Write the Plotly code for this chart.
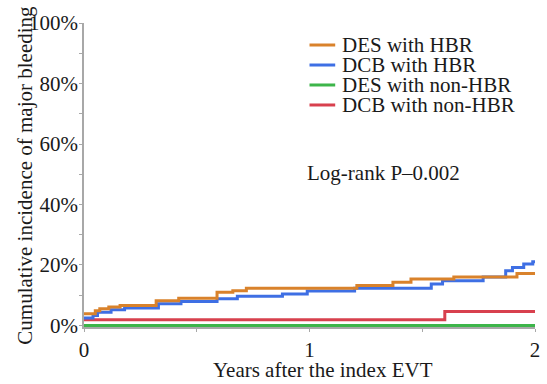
import plotly.graph_objects as go

# Kaplan-Meier style cumulative incidence (years, percent)
des_hbr_t = [0.0, 0.05, 0.07, 0.11, 0.16, 0.32, 0.42, 0.59, 0.66, 0.72, 1.21, 1.37, 1.45, 1.64, 1.92, 2.0]
des_hbr_y = [3.9, 4.9, 5.5, 6.1, 6.6, 8.2, 9.0, 11.0, 11.5, 12.3, 13.2, 14.3, 15.4, 16.0, 17.2, 17.2]

dcb_hbr_t = [0.0, 0.04, 0.06, 0.12, 0.18, 0.33, 0.43, 0.59, 0.68, 0.88, 0.99, 1.2, 1.54, 1.59, 1.77, 1.87, 1.9, 1.95, 1.99, 2.0]
dcb_hbr_y = [2.5, 3.3, 4.4, 5.2, 5.8, 7.2, 7.9, 8.8, 9.7, 10.4, 11.4, 12.3, 13.7, 14.8, 16.0, 18.1, 19.2, 20.3, 21.1, 21.1]

des_non_t = [0.0, 2.0]
des_non_y = [0.0, 0.0]

dcb_non_t = [0.0, 1.6, 2.0]
dcb_non_y = [1.9, 4.6, 4.6]

names = ["DES with HBR", "DCB with HBR", "DES with non-HBR", "DCB with non-HBR"]
colors = ["#D9822B", "#3E6FE4", "#3DB54A", "#D8404E"]

y_ticks = [0, 20, 40, 60, 80, 100]
x_ticks = [0, 1, 2]

FONT = "Liberation Serif, Times New Roman, Times, serif"
SIZE = 21
TXT = "#1a1a1a"
AXIS = "#a8a8a8"

fig = go.Figure()

# draw order: non-HBR lines underneath, orange on top
series = [
    (des_non_t, des_non_y, 2),
    (dcb_non_t, dcb_non_y, 3),
    (dcb_hbr_t, dcb_hbr_y, 1),
    (des_hbr_t, des_hbr_y, 0),
]
for t, y, i in series:
    fig.add_trace(go.Scatter(
        x=t, y=y, mode="lines", line=dict(shape="hv", color=colors[i], width=3),
        name=names[i], showlegend=False,
    ))

# compact legend box (rows 20 px apart)
shapes = []
annotations = []
row_y = [0.9276, 0.8618, 0.7961, 0.7303]
for name, col, ry in zip(names, colors, row_y):
    shapes.append(dict(type="line", xref="paper", yref="paper",
                       x0=0.5, x1=0.557, y0=ry, y1=ry,
                       line=dict(color=col, width=3)))
    annotations.append(dict(text=name, xref="paper", yref="paper",
                            x=0.568, y=ry, xanchor="left", yanchor="middle",
                            showarrow=False,
                            font=dict(family=FONT, size=SIZE, color=TXT)))

annotations += [
    dict(text="Years after the index EVT", xref="paper", yref="paper",
         x=0.53, y=-0.142, xanchor="center", yanchor="middle", showarrow=False,
         font=dict(family=FONT, size=SIZE, color=TXT)),
    dict(text="Cumulative incidence of major bleeding", xref="paper", yref="paper",
         x=-0.1316, y=0.5, xanchor="center", yanchor="middle", textangle=-90,
         showarrow=False, font=dict(family=FONT, size=SIZE, color=TXT)),
    dict(text="Log-rank P–0.002", xref="paper", yref="paper",
         x=0.489, y=0.505, xanchor="left", yanchor="middle", showarrow=False,
         font=dict(family=FONT, size=SIZE, color=TXT)),
]

tickfont = dict(family=FONT, size=SIZE, color=TXT)

fig.update_layout(
    width=547, height=384,
    margin=dict(l=84, r=7, t=23, b=57),
    paper_bgcolor="white", plot_bgcolor="white",
    font=dict(family=FONT, size=SIZE, color=TXT),
    showlegend=False,
    xaxis=dict(
        range=[0, 2], tickvals=x_ticks, ticktext=[str(v) for v in x_ticks],
        tickfont=tickfont,
        showgrid=False, zeroline=False, showline=True, linecolor=AXIS, linewidth=1.5,
        ticks="outside", ticklen=3, tickcolor=AXIS, layer="below traces",
        minor=dict(ticks="outside", ticklen=3, dtick=0.5, tickcolor=AXIS),
    ),
    yaxis=dict(
        range=[-0.5, 100], tickvals=y_ticks, ticktext=[f"{v}%" for v in y_ticks],
        tickfont=tickfont,
        showgrid=False, zeroline=False, showline=True, linecolor=AXIS, linewidth=1.5,
        ticks="outside", ticklen=3, tickcolor=AXIS, layer="below traces",
        ticklabelstandoff=-3,
        minor=dict(ticks="outside", ticklen=3, dtick=10, tickcolor=AXIS),
    ),
    shapes=shapes,
    annotations=annotations,
)

fig.write_html("out.html")
